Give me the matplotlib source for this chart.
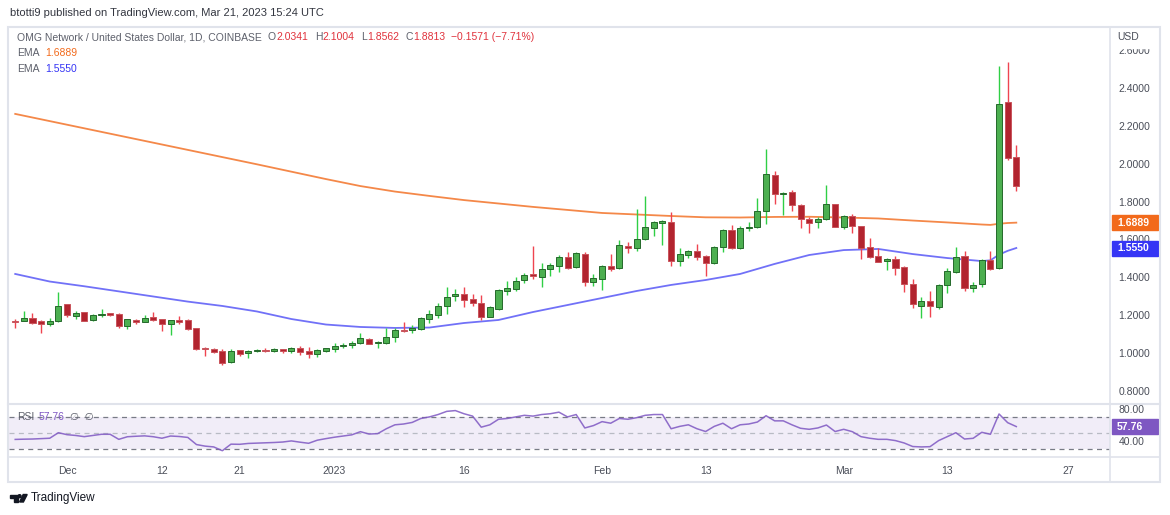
import numpy as np
import pandas as pd
import matplotlib
matplotlib.use("Agg")
import matplotlib.pyplot as plt
import matplotlib.dates as mdates
from matplotlib.patches import Rectangle, Polygon, Circle
from matplotlib.ticker import FormatStrFormatter
from matplotlib.transforms import blended_transform_factory

plt.rcParams['font.family'] = ['Liberation Sans', 'DejaVu Sans']

# OMG/USD daily candles, Coinbase, 25 Nov 2022 .. 21 Mar 2023
dates = pd.date_range("2022-11-25", "2023-03-21", freq="D")

opens = [1.171, 1.171, 1.184, 1.170, 1.152, 1.168, 1.258, 1.198, 1.217, 1.173,
         1.201, 1.210, 1.208, 1.142, 1.175, 1.166, 1.189, 1.179, 1.152, 1.175,
         1.175, 1.131, 1.029, 1.023, 1.011, 0.955, 1.015, 0.999, 1.010, 1.018,
         1.011, 1.020, 1.011, 1.029, 1.011, 0.995, 1.013, 1.020, 1.036, 1.044,
         1.052, 1.076, 1.052, 1.052, 1.083, 1.122, 1.122, 1.127, 1.182, 1.203,
         1.249, 1.302, 1.314, 1.286, 1.265, 1.191, 1.235, 1.330, 1.340, 1.385,
         1.416, 1.402, 1.446, 1.462, 1.506, 1.456, 1.523, 1.374, 1.393, 1.458,
         1.449, 1.565, 1.553, 1.603, 1.662, 1.689, 1.694, 1.485, 1.520, 1.541,
         1.513, 1.476, 1.562, 1.652, 1.553, 1.659, 1.664, 1.750, 1.942, 1.839,
         1.851, 1.782, 1.710, 1.694, 1.707, 1.786, 1.668, 1.724, 1.671, 1.560,
         1.513, 1.486, 1.497, 1.455, 1.367, 1.249, 1.274, 1.245, 1.360, 1.430,
         1.511, 1.345, 1.363, 1.492, 1.448, 2.328, 2.0341]
highs = [1.180, 1.222, 1.210, 1.175, 1.184, 1.323, 1.259, 1.224, 1.219, 1.208,
         1.231, 1.213, 1.212, 1.182, 1.180, 1.200, 1.217, 1.180, 1.175, 1.196,
         1.180, 1.134, 1.034, 1.025, 1.022, 1.023, 1.016, 1.016, 1.022, 1.027,
         1.025, 1.023, 1.034, 1.038, 1.031, 1.022, 1.029, 1.052, 1.052, 1.064,
         1.108, 1.080, 1.066, 1.134, 1.134, 1.166, 1.147, 1.192, 1.228, 1.266,
         1.348, 1.339, 1.349, 1.311, 1.305, 1.249, 1.337, 1.382, 1.403, 1.421,
         1.566, 1.474, 1.474, 1.518, 1.535, 1.535, 1.534, 1.416, 1.465, 1.523,
         1.597, 1.588, 1.759, 1.831, 1.698, 1.701, 1.747, 1.557, 1.546, 1.575,
         1.520, 1.564, 1.655, 1.675, 1.673, 1.691, 1.821, 2.078, 1.960, 1.851,
         1.861, 1.787, 1.719, 1.717, 1.889, 1.789, 1.729, 1.733, 1.673, 1.606,
         1.555, 1.501, 1.514, 1.460, 1.390, 1.296, 1.328, 1.363, 1.448, 1.559,
         1.538, 1.376, 1.495, 1.538, 2.518, 2.536, 2.1004]
lows = [1.131, 1.168, 1.155, 1.108, 1.142, 1.166, 1.192, 1.182, 1.169, 1.170,
        1.192, 1.198, 1.131, 1.126, 1.155, 1.163, 1.170, 1.117, 1.097, 1.152,
        1.122, 1.016, 0.986, 1.002, 0.939, 0.949, 0.985, 0.973, 1.004, 1.006,
        1.006, 0.999, 1.002, 0.988, 0.976, 0.981, 1.007, 1.007, 1.025, 1.029,
        1.048, 1.047, 1.029, 1.050, 1.060, 1.112, 1.105, 1.122, 1.161, 1.185,
        1.207, 1.277, 1.245, 1.250, 1.175, 1.189, 1.228, 1.308, 1.330, 1.369,
        1.391, 1.348, 1.409, 1.427, 1.443, 1.448, 1.354, 1.354, 1.333, 1.435,
        1.443, 1.530, 1.538, 1.597, 1.618, 1.571, 1.460, 1.460, 1.504, 1.490,
        1.407, 1.472, 1.536, 1.548, 1.550, 1.645, 1.661, 1.682, 1.789, 1.729,
        1.751, 1.662, 1.636, 1.662, 1.703, 1.668, 1.653, 1.636, 1.497, 1.502,
        1.480, 1.439, 1.412, 1.323, 1.240, 1.185, 1.192, 1.231, 1.319, 1.421,
        1.326, 1.321, 1.351, 1.439, 1.444, 2.018, 1.8562]
closes = [1.166, 1.184, 1.157, 1.152, 1.170, 1.250, 1.203, 1.213, 1.171, 1.203,
          1.208, 1.203, 1.142, 1.179, 1.166, 1.184, 1.175, 1.152, 1.173, 1.166,
          1.127, 1.023, 1.022, 1.007, 0.949, 1.013, 0.997, 1.011, 1.016, 1.011,
          1.020, 1.011, 1.029, 1.007, 0.994, 1.016, 1.025, 1.038, 1.044, 1.053,
          1.078, 1.050, 1.060, 1.087, 1.120, 1.115, 1.133, 1.185, 1.207, 1.250,
          1.298, 1.314, 1.282, 1.263, 1.189, 1.242, 1.332, 1.344, 1.381, 1.414,
          1.407, 1.444, 1.464, 1.506, 1.449, 1.527, 1.374, 1.397, 1.458, 1.446,
          1.571, 1.553, 1.603, 1.668, 1.691, 1.698, 1.485, 1.522, 1.539, 1.509,
          1.474, 1.559, 1.652, 1.553, 1.661, 1.668, 1.749, 1.946, 1.839, 1.847,
          1.782, 1.707, 1.689, 1.708, 1.786, 1.668, 1.724, 1.673, 1.555, 1.508,
          1.483, 1.497, 1.451, 1.363, 1.258, 1.274, 1.249, 1.360, 1.434, 1.506,
          1.344, 1.361, 1.490, 1.444, 2.317, 2.032, 1.8813]

# EMA readings (candle index -> value)
ema_days = [0, 4, 8, 12, 16, 20, 24, 28, 32, 36, 40, 44, 48, 52, 56, 60, 64, 68,
            72, 76, 80, 84, 88, 92, 96, 100, 104, 108, 112, 113, 114, 115, 116]
ema_slow = [2.263, 2.225, 2.187, 2.149, 2.111, 2.073, 2.035, 1.997, 1.958, 1.919,
            1.882, 1.853, 1.830, 1.808, 1.790, 1.772, 1.756, 1.740, 1.732, 1.724,
            1.717, 1.716, 1.719, 1.720, 1.716, 1.711, 1.700, 1.690, 1.679, 1.677,
            1.683, 1.687, 1.6889]
ema_fast = [1.418, 1.378, 1.353, 1.326, 1.299, 1.272, 1.249, 1.220, 1.180, 1.151,
            1.138, 1.133, 1.135, 1.159, 1.175, 1.217, 1.254, 1.291, 1.328, 1.360,
            1.386, 1.418, 1.471, 1.518, 1.544, 1.550, 1.523, 1.502, 1.486, 1.490,
            1.520, 1.540, 1.5550]

rsi = [41.5, 41.8, 42.0, 42.5, 43.0, 50.0, 47.5, 46.5, 45.0, 46.5,
       48.0, 48.0, 41.6, 44.9, 45.5, 46.0, 44.9, 43.0, 45.8, 45.2,
       44.0, 35.0, 33.0, 32.0, 27.2, 35.5, 35.3, 36.4, 36.8, 37.2,
       37.6, 38.2, 39.6, 38.0, 36.6, 40.5, 42.5, 44.3, 45.8, 47.3,
       51.3, 48.3, 48.8, 55.0, 60.0, 61.0, 63.0, 68.0, 70.0, 73.0,
       77.0, 78.0, 74.0, 71.0, 57.0, 60.0, 67.0, 68.0, 70.0, 72.0,
       71.0, 73.0, 74.0, 76.0, 70.0, 73.0, 56.0, 59.0, 64.0, 62.0,
       68.0, 67.0, 69.0, 72.0, 73.0, 73.0, 55.0, 58.0, 60.0, 55.0,
       51.5, 58.0, 62.0, 55.0, 60.0, 61.0, 63.5, 71.5, 65.0, 65.0,
       60.0, 55.6, 54.3, 56.0, 59.7, 51.5, 54.3, 51.3, 45.0, 43.0,
       41.6, 41.6, 40.0, 37.0, 32.5, 32.0, 32.3, 40.0, 45.0, 50.0,
       42.0, 42.9, 50.5, 48.0, 73.7, 62.7, 57.76]

tick_dates = ["2022-12-01", "2022-12-12", "2022-12-21", "2023-01-01", "2023-01-16",
              "2023-02-01", "2023-02-13", "2023-03-01", "2023-03-13", "2023-03-27"]
tick_labels = ["Dec", "12", "21", "2023", "16", "Feb", "13", "Mar", "13", "27"]
price_ticks = [0.8, 1.0, 1.2, 1.4, 1.6, 1.8, 2.0, 2.2, 2.4, 2.6]

GREEN, GREEN_EDGE, GREEN_WICK = "#4caf50", "#25692b", "#2fcf45"
RED, RED_EDGE, RED_WICK = "#b2242f", "#c9545c", "#ef4450"
ORANGE, BLUE, PURPLE = "#f26a1b", "#3535f5", "#7e57c2"
TXT, GRAY = "#4a4e59", "#5d606b"

W, H = 1170, 515
fig = plt.figure(figsize=(W / 100, H / 100), dpi=100)


def axes_px(left, top, right, bottom, **kw):
    return fig.add_axes([left / W, 1 - bottom / H, (right - left) / W, (bottom - top) / H], **kw)


ax = axes_px(9, 28, 1110, 404)
ax_rsi = axes_px(9, 405, 1110, 456)

d0 = mdates.date2num(pd.Timestamp("2022-12-01"))
ppd = 8.63  # pixels per day
for a in (ax, ax_rsi):
    a.set_xlim(d0 - (67 - 9) / ppd, d0 + (1110 - 67) / ppd)
    for s in a.spines.values():
        s.set_visible(False)
    a.yaxis.tick_right()
    a.tick_params(axis="y", length=0, pad=6, labelsize=7.5, labelcolor=TXT)

# candles
x = mdates.date2num(dates)
o, h, l, c = map(np.array, (opens, highs, lows, closes))
up = c >= o
for m, body, edge, wick in [(up, GREEN, GREEN_EDGE, GREEN_WICK), (~up, RED, RED_EDGE, RED_WICK)]:
    ax.vlines(x[m], l[m], h[m], color=wick, lw=1.0, zorder=2)
    ax.bar(x[m], np.abs(c - o)[m], bottom=np.minimum(o, c)[m], width=0.7,
           color=body, edgecolor=edge, linewidth=0.7, zorder=3)

ex = x[ema_days]
ax.plot(ex, ema_slow, color=ORANGE, lw=1.3, alpha=0.8, zorder=1)
ax.plot(ex, ema_fast, color=BLUE, lw=1.3, alpha=0.7, zorder=1)

ax.set_ylim(0.8 - 13 / 189.4, 0.8 + 363 / 189.4)
ax.set_xticks([])
ax.set_yticks(price_ticks)
ax.yaxis.set_major_formatter(FormatStrFormatter("%.4f"))

# price tags
bt = blended_transform_factory(ax.transAxes, ax.transData)
for val, col in [(ema_slow[-1], ORANGE), (ema_fast[-1], BLUE)]:
    ax.add_patch(Rectangle((1 + 2 / 1101, val - 7.5 / 189.4), 46 / 1101, 15 / 189.4,
                           transform=bt, color=col, clip_on=False, zorder=6))
    ax.text(1 + 7 / 1101, val, f"{val:.4f}", transform=bt, ha="left", va="center",
            color="white", fontsize=7.5, fontweight="bold", zorder=7, clip_on=False)

# RSI pane
ax_rsi.set_ylim(50 - 23.3 / 0.79, 50 + 27.7 / 0.79)
ax_rsi.axhspan(30, 70, color=PURPLE, alpha=0.1, lw=0)
ax_rsi.axhline(70, color="#787b86", lw=0.9, ls=(0, (4, 3.5)))
ax_rsi.axhline(50, color="#b8bbc4", lw=0.9, ls=(0, (4, 3.5)))
ax_rsi.axhline(30, color="#787b86", lw=0.9, ls=(0, (4, 3.5)))
ax_rsi.plot(x, rsi, color=PURPLE, lw=1.1, alpha=0.85)
ax_rsi.set_yticks([40, 80])
ax_rsi.yaxis.set_major_formatter(FormatStrFormatter("%.2f"))
ax_rsi.set_xticks(mdates.date2num(pd.to_datetime(tick_dates)))
ax_rsi.set_xticklabels(tick_labels)
ax_rsi.tick_params(axis="x", length=0, pad=7, labelsize=7.5, labelcolor=TXT)

bt2 = blended_transform_factory(ax_rsi.transAxes, ax_rsi.transData)
ax_rsi.add_patch(Rectangle((1 + 2 / 1101, rsi[-1] - 7.5 / 0.79), 46 / 1101, 15 / 0.79,
                           transform=bt2, color=PURPLE, clip_on=False, zorder=6))
ax_rsi.text(1 + 7 / 1101, rsi[-1], f"{rsi[-1]:.2f}", transform=bt2, ha="left", va="center",
            color="white", fontsize=7.5, fontweight="bold", zorder=7, clip_on=False)

# overlay for frame and texts (pixel coords)
ov = fig.add_axes([0, 0, 1, 1], zorder=5)
ov.set_xlim(0, W)
ov.set_ylim(H, 0)
ov.axis("off")
ov.patch.set_alpha(0)

FRAME = "#e0e3eb"
ov.add_patch(Rectangle((1111, 28), 48, 20, color="white", zorder=1))
ov.add_patch(Rectangle((8, 27), 1152, 455, fill=False, ec=FRAME, lw=1.5))
ov.plot([1110, 1110], [27, 482], color=FRAME, lw=1.2)
ov.plot([8, 1160], [404, 404], color=FRAME, lw=1.5)
ov.plot([8, 1160], [457, 457], color=FRAME, lw=1.2)
ov.text(1117, 37, "USD", color=TXT, fontsize=7.5, va="center", zorder=2)


def rich(x0, y0, parts, size=7.5):
    t = ov.text(x0, y0, parts[0][0], color=parts[0][1], fontsize=size, va="center", ha="left")
    for s, col, gap in parts[1:]:
        t = ov.annotate(s, xy=(1, 0.5), xycoords=t, xytext=(gap, 0), textcoords="offset points",
                        color=col, fontsize=size, va="center", ha="left")


ov.text(10, 13, "btotti9 published on TradingView.com, Mar 21, 2023 15:24 UTC",
        color="#333640", fontsize=8, va="center")
LRED = "#e0323c"
rich(17, 37, [("OMG Network / United States Dollar, 1D, COINBASE", GRAY),
              ("O", GRAY, 4.5), ("2.0341", LRED, 0.3),
              ("H", GRAY, 4.5), ("2.1004", LRED, 0.3),
              ("L", GRAY, 4.5), ("1.8562", LRED, 0.3),
              ("C", GRAY, 4.5), ("1.8813", LRED, 0.3),
              ("\u22120.1571 (\u22127.71%)", LRED, 4.5)])
rich(17, 53, [("EMA", GRAY), (f"{ema_slow[-1]:.4f}", ORANGE, 4)])
rich(17, 69, [("EMA", GRAY), (f"{ema_fast[-1]:.4f}", BLUE, 4)])
rich(17, 417, [("RSI", GRAY), (f"{rsi[-1]:.2f}", PURPLE, 3), ("\u2205  \u2205", GRAY, 4)])

# TradingView logo
ov.add_patch(Polygon([[9.5, 494.5], [17.5, 494.5], [17.5, 502], [14, 502], [14, 497.5], [9.5, 497.5]],
                     closed=True, color="#131722"))
ov.add_patch(Circle((19.6, 496.2), 1.5, color="#131722"))
ov.add_patch(Polygon([[23.2, 494.5], [27.2, 494.5], [23.4, 502], [19.6, 502]], closed=True, color="#131722"))
ov.text(31, 498, "TradingView", color="#131722", fontsize=8.5, va="center")

fig.savefig("out.png", dpi=100)
